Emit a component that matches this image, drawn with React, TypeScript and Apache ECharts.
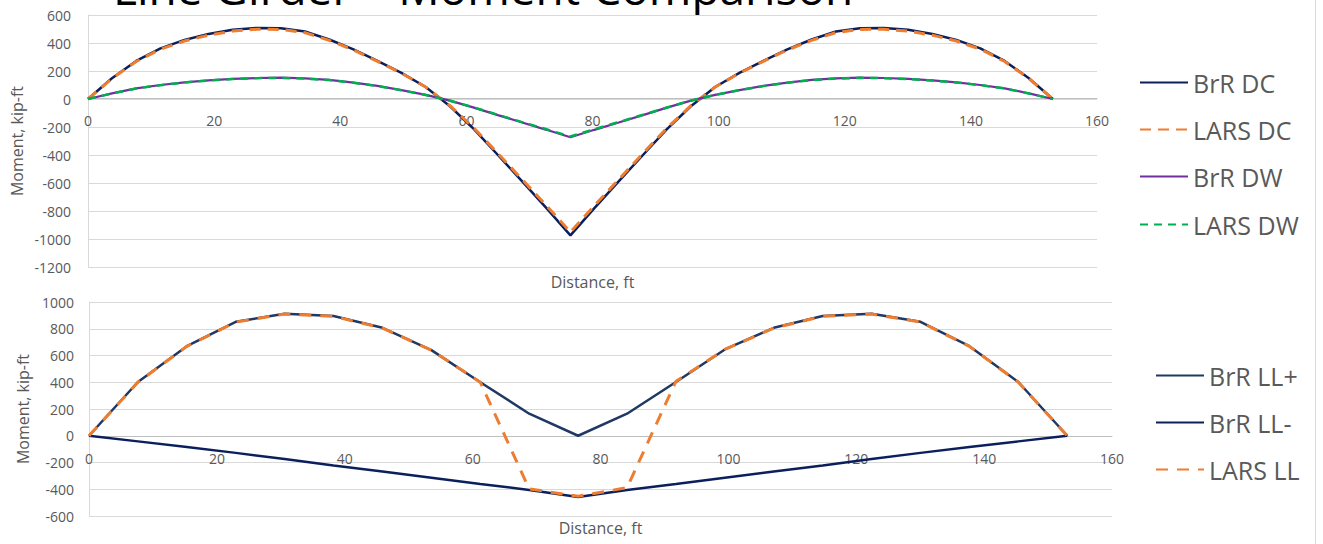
import React, { useEffect, useRef } from "react";
import * as echarts from "echarts";

// ---------- data ----------
const titleText = "Line Girder – Moment Comparison";

// top chart stations (ft)
const dcX = [0, 3.8, 7.65, 11.5, 15.3, 19.1, 22.95, 26.8, 30.6, 34.4, 38.25, 42.1, 45.9, 49.7, 53.55, 57.4, 61.2, 65, 68.85, 72.7, 76.5,
  80.3, 84.15, 88, 91.8, 95.6, 99.45, 103.3, 107.1, 110.9, 114.75, 118.6, 122.4, 126.2, 130.05, 133.9, 137.7, 141.5, 145.35, 149.2, 153];
const brrDC = [0, 148, 272, 362, 422, 465, 494, 508, 506, 482, 425, 355, 273, 187, 86, -52, -215, -400, -589, -780, -974,
  -780, -589, -400, -215, -52, 86, 187, 273, 355, 425, 482, 506, 508, 494, 465, 422, 362, 272, 148, 0];
const larsDC = [0, 146, 268, 356, 414, 456, 485, 498, 497, 474, 419, 350, 269, 184, 86, -48, -207, -389, -575, -762, -950,
  -762, -575, -389, -207, -48, 86, 184, 269, 350, 419, 474, 497, 498, 485, 456, 414, 356, 268, 146, 0];
const brrDW = [0, 40, 76, 100, 119, 133, 143, 150, 152, 147, 136, 117, 93, 64, 30, -12, -62, -115, -168, -220, -273,
  -220, -168, -115, -62, -12, 30, 64, 93, 117, 136, 147, 152, 150, 143, 133, 119, 100, 76, 40, 0];
const larsDW = [0, 39, 75, 99, 118, 132, 142, 149, 151, 146, 135, 116, 92, 63, 29, -12, -61, -113, -165, -216, -268,
  -216, -165, -113, -61, -12, 29, 63, 92, 116, 135, 146, 151, 149, 142, 132, 118, 99, 75, 39, 0];

// bottom chart stations (ft)
const llX = [0, 7.65, 15.3, 22.95, 30.6, 38.25, 45.9, 53.55, 61.2, 68.85, 76.5, 84.15, 91.8, 99.45, 107.1, 114.75, 122.4, 130.05, 137.7, 145.35, 153];
const brrLLpos = [0, 402, 670, 852, 912, 895, 807, 640, 400, 165, 0, 165, 402, 645, 807, 895, 912, 852, 670, 402, 0];
const brrLLneg = [0, -42, -84, -128, -174, -222, -268, -314, -360, -405, -458, -405, -360, -314, -268, -222, -174, -128, -84, -42, 0];
const larsLL = [0, 400, 668, 850, 910, 893, 805, 640, 400, -398, -452, -388, 407, 645, 805, 893, 910, 850, 668, 400, 0];

const topTicks = { min: -1200, max: 600, interval: 200 };
const botTicks = { min: -600, max: 1000, interval: 200 };
const xTicks = { min: 0, max: 160, interval: 20 };

const xAxisName = "Distance, ft";
const yAxisName = "Moment, kip-ft";

// ---------- styling ----------
const FONT = "Open Sans";
const GREY_TEXT = "#595959";
const NAVY = "#0B1F5C";
const NAVY2 = "#203864";
const ORANGE = "#ED7D31";
const PURPLE = "#7030A0";
const GREEN = "#00B050";

const pairs = (xs: number[], ys: number[]) => xs.map((x, i) => [x, ys[i]]);

function lineSeries(name: string, xi: number, xs: number[], ys: number[], color: string, width: number, dash?: number[]) {
  return {
    name,
    type: "line",
    xAxisIndex: xi,
    yAxisIndex: xi,
    data: pairs(xs, ys),
    symbol: "none",
    showSymbol: false,
    lineStyle: { color, width, type: dash ? dash : "solid", cap: "butt" },
    itemStyle: { color },
    z: 3,
  };
}

function legendFor(name: string, left: number, centerY: number, width: number) {
  return {
    data: [name],
    left,
    top: centerY - 14,
    orient: "vertical",
    itemWidth: width,
    itemHeight: 14,
    padding: 0,
    selectedMode: false,
    itemStyle: { opacity: 0 },
    textStyle: { fontSize: 25, color: GREY_TEXT, fontFamily: FONT },
  };
}

// offset moves the x axis up to the zero line (negative = upward)
function xAxisDef(gridIndex: number, offset: number, nameGap: number) {
  return {
    type: "value",
    gridIndex,
    ...xTicks,
    position: "bottom",
    offset,
    name: xAxisName,
    nameLocation: "middle",
    nameGap,
    nameMoveOverlap: false,
    nameTextStyle: { fontSize: 16, color: GREY_TEXT, fontFamily: FONT },
    axisLine: { onZero: false, lineStyle: { color: "#bfbfbf", width: 1 } },
    axisTick: { show: false },
    axisLabel: { fontSize: 14, color: GREY_TEXT, fontFamily: FONT, margin: 15, hideOverlap: false, formatter: (v: number) => String(v) },
    splitLine: { show: false },
  };
}

function yAxisDef(gridIndex: number, ticks: any, nameGap: number, labelMargin: number) {
  return {
    type: "value",
    gridIndex,
    ...ticks,
    name: yAxisName,
    nameLocation: "middle",
    nameGap,
    nameMoveOverlap: false,
    nameTextStyle: { fontSize: 16, color: GREY_TEXT, fontFamily: FONT },
    axisLine: { show: true, onZero: false, lineStyle: { color: "#d9d9d9", width: 1 } },
    axisTick: { show: false },
    axisLabel: { fontSize: 14, color: GREY_TEXT, fontFamily: FONT, margin: labelMargin, formatter: (v: number) => String(v) },
    splitLine: { show: true, lineStyle: { color: "#d9d9d9", width: 1 } },
  };
}

export default function App() {
  const ref = useRef<HTMLDivElement>(null);

  useEffect(() => {
    if (!ref.current) return;
    const chart = echarts.init(ref.current, undefined, { renderer: "svg" });
    chart.setOption({
      animation: false,
      backgroundColor: "#ffffff",
      textStyle: { fontFamily: FONT },
      grid: [
        { left: 88, top: 15, width: 1009, height: 252 },
        { left: 89, top: 302, width: 1023, height: 214 },
      ],
      xAxis: [xAxisDef(0, -169, 176), xAxisDef(1, -80, 84)],
      yAxis: [yAxisDef(0, topTicks, 63, 17), yAxisDef(1, botTicks, 58, 15)],
      legend: [
        legendFor("BrR DC", 1139, 84, 48),
        legendFor("LARS DC", 1139, 131, 48),
        legendFor("BrR DW", 1139, 178, 48),
        legendFor("LARS DW", 1139, 226, 48),
        legendFor("BrR LL+", 1155, 377, 48),
        legendFor("BrR LL-", 1155, 424, 48),
        legendFor("LARS LL", 1155, 471, 48),
      ],
      series: [
        lineSeries("BrR DC", 0, dcX, brrDC, NAVY, 2.5),
        lineSeries("LARS DC", 0, dcX, larsDC, ORANGE, 3, [11, 7]),
        lineSeries("BrR DW", 0, dcX, brrDW, PURPLE, 2.25),
        lineSeries("LARS DW", 0, dcX, larsDW, GREEN, 2.5, [8, 6]),
        lineSeries("BrR LL+", 1, llX, brrLLpos, NAVY2, 2.5),
        lineSeries("BrR LL-", 1, llX, brrLLneg, NAVY, 2.5),
        lineSeries("LARS LL", 1, llX, larsLL, ORANGE, 3, [12, 9]),
      ],
      graphic: [
        {
          type: "text",
          left: 113,
          top: -36,
          silent: true,
          style: { text: titleText, fontSize: 46, fontFamily: FONT, fill: "#000000" },
        },
        {
          type: "line",
          silent: true,
          shape: { x1: 1315.5, y1: 0, x2: 1315.5, y2: 544 },
          style: { stroke: "#d9d9d9", lineWidth: 1 },
        },
      ],
    });
    return () => chart.dispose();
  }, []);

  return (
    <div
      ref={ref}
      style={{ position: "fixed", left: 0, top: 0, width: 1323, height: 544, background: "#ffffff" }}
    />
  );
}
